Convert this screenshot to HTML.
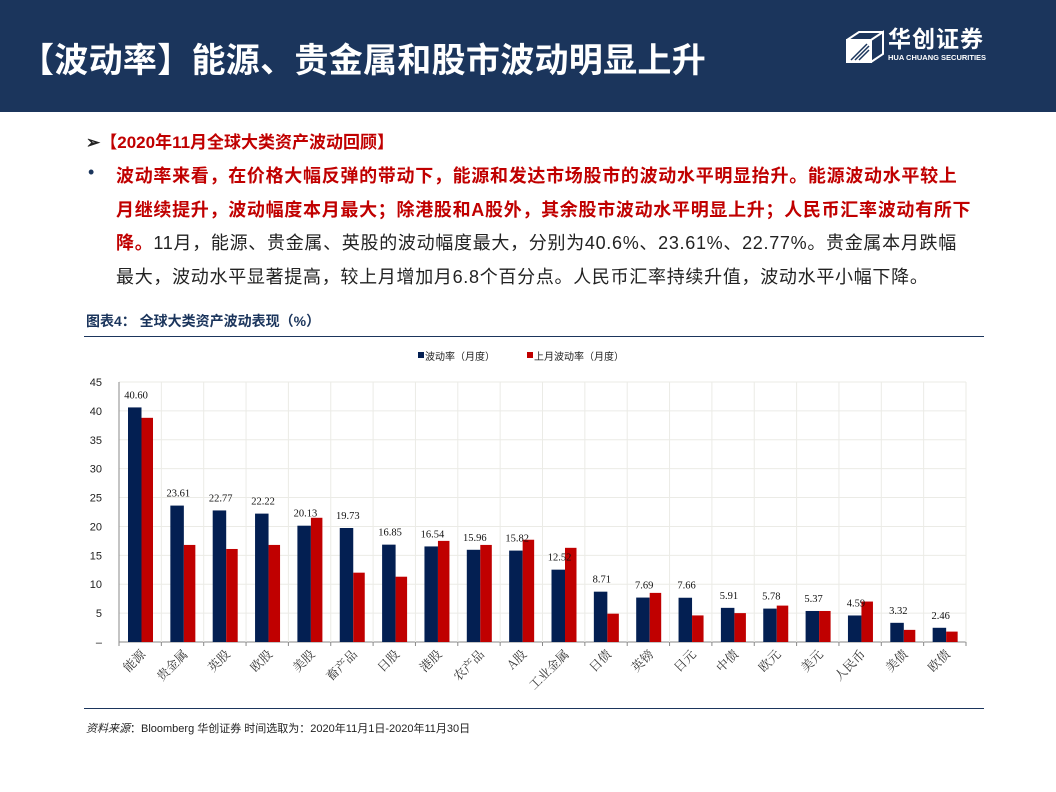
<!DOCTYPE html>
<html><head><meta charset="utf-8"><style>
body{margin:0;width:1056px;height:792px;background:#fff;font-family:"Liberation Sans","Noto Sans CJK SC",sans-serif;position:relative;overflow:hidden}
.hdr{position:absolute;left:0;top:0;width:1056px;height:112px;background:#1b355c}
.title{position:absolute;left:20px;top:33px;color:#fff;font-size:34px;font-weight:bold;letter-spacing:0.3px;white-space:nowrap}
.p{position:absolute;font-size:18px;color:#222}
.ln{position:absolute;left:116px;font-size:18px;color:#222;white-space:nowrap;letter-spacing:0.7px}
.red{color:#c00000;font-weight:bold}
</style></head><body>
<div class="hdr"></div>
<div class="title">【波动率】能源、贵金属和股市波动明显上升</div>
<div style="position:absolute;left:845px;top:28px;width:150px;height:36px">
<svg width="42" height="34" style="position:absolute;left:0;top:2px"><g fill="none" stroke="#fff" stroke-width="2"><rect x="2" y="10" width="24" height="22" fill="#fff"/><path d="M26 10 L38 2 L38 24 L26 32 M2 10 L14 2 L38 2"/><path d="M6 30 L22 14 M10 30 L24 16 M14 30 L24 20" stroke="#1b355c" stroke-width="1.5"/></g></svg>
<div style="position:absolute;left:43px;top:-2px;color:#fff;font-size:23px;line-height:27px;font-weight:bold;letter-spacing:1px">华创证券</div>
<div style="position:absolute;left:43px;top:25px;color:#fff;font-size:7.5px;line-height:9px;font-weight:bold;white-space:nowrap">HUA CHUANG SECURITIES</div>
</div>
<div class="p red" style="left:86px;top:128px;font-size:17px"><span style="color:#222">➢</span>【2020年11月全球大类资产波动回顾】</div>
<div class="p" style="left:88px;top:162px;color:#1b355c">•</div>
<div>
<div class="ln red" style="top:162px">波动率来看，在价格大幅反弹的带动下，能源和发达市场股市的波动水平明显抬升。能源波动水平较上</div>
<div class="ln red" style="top:196px">月继续提升，波动幅度本月最大；除港股和A股外，其余股市波动水平明显上升；人民币汇率波动有所下</div>
<div class="ln" style="top:229px"><span class="red">降。</span>11月，能源、贵金属、英股的波动幅度最大，分别为40.6%、23.61%、22.77%。贵金属本月跌幅</div>
<div class="ln" style="top:263px">最大，波动水平显著提高，较上月增加月6.8个百分点。人民币汇率持续升值，波动水平小幅下降。</div>
</div>
<div style="position:absolute;left:86px;top:311px;font-size:14px;font-weight:bold;color:#1b355c">图表4：&nbsp;全球大类资产波动表现（%）</div>
<div style="position:absolute;left:84px;top:336px;width:900px;height:1px;background:#1b355c"></div>
<div style="position:absolute;left:84px;top:708px;width:900px;height:1px;background:#1b355c"></div>
<div style="position:absolute;left:86px;top:720px;font-size:11px;color:#222"><i>资料来源</i>：Bloomberg 华创证券 时间选取为：2020年11月1日-2020年11月30日</div>
<svg id="chart" width="1056" height="792" style="position:absolute;left:0;top:0"></svg>
<script>
const categories=["能源","贵金属","英股","欧股","美股","畜产品","日股","港股","农产品","A股","工业金属","日债","英镑","日元","中债","欧元","美元","人民币","美债","欧债"];
const currentVals=[40.60,23.61,22.77,22.22,20.13,19.73,16.85,16.54,15.96,15.82,12.52,8.71,7.69,7.66,5.91,5.78,5.37,4.59,3.32,2.46];
const prevVals=[38.8,16.8,16.1,16.8,21.5,12.0,11.3,17.5,16.8,17.7,16.3,4.9,8.5,4.6,5.0,6.3,5.37,7.0,2.1,1.8];
const yTicks=[0,5,10,15,20,25,30,35,40,45];
const NS="http://www.w3.org/2000/svg",svg=document.getElementById('chart');
const x0=119,x1=966,y0=642,y1=382,ymax=45;
const cw=(x1-x0)/categories.length;
const Y=v=>y0-(v/ymax)*(y0-y1);
const X=i=>x0+i*cw;
function mk(t,a,txt){const e=document.createElementNS(NS,t);for(const k in a)e.setAttribute(k,a[k]);if(txt!==undefined)e.textContent=txt;svg.appendChild(e);return e;}
yTicks.forEach(t=>{
 const g=mk('line',{x1:x0,x2:x1,y1:Y(t),y2:Y(t),stroke:t?'#ebebe6':'#888'});
 
 
 const l=mk('text',{x:102,y:Y(t)+4,'font-size':11,'text-anchor':'end',fill:'#222'},t===0?'–':String(t));
 
 
});
for(let i=0;i<=categories.length;i++){
 const v=mk('line',{x1:X(i),x2:X(i),y1:y1,y2:y0,stroke:'#ebebe6'});
 
 
 const tk=mk('line',{x1:X(i),x2:X(i),y1:y0,y2:y0+4,stroke:'#888'});
 
 
}
mk('line',{x1:x0,x2:x0,y1:y1,y2:y0,stroke:'#888'});
categories.forEach((c,i)=>{
 const bx=X(i)+9;
 const b1=mk('rect',{x:bx,y:Y(currentVals[i]),width:13.5,height:y0-Y(currentVals[i]),fill:'#031f52'});
 
 
 const b2=mk('rect',{x:bx+13.5,y:Y(prevVals[i]),width:11.5,height:y0-Y(prevVals[i]),fill:'#c00000'});
 
 
 const lb=mk('text',{x:bx+8,y:Y(currentVals[i])-9,'font-size':10.5,'text-anchor':'middle',fill:'#111','font-family':'Liberation Serif, serif'},currentVals[i].toFixed(2));
 
 
 const cx=X(i)+cw/2+6,cy=y0+13;
 const xl=mk('text',{x:cx,y:cy,'font-size':12.5,'text-anchor':'end',fill:'#333',transform:`rotate(-45 ${cx} ${cy})`,'font-family':'Noto Serif CJK SC, serif'},c);
 
 
});
const lg1=mk('rect',{x:418,y:352,width:6,height:6,fill:'#031f52'});


const lt1=mk('text',{x:425,y:360,'font-size':10,fill:'#222'},'波动率（月度）');


const lg2=mk('rect',{x:527,y:352,width:6,height:6,fill:'#c00000'});


const lt2=mk('text',{x:534,y:360,'font-size':10,fill:'#222'},'上月波动率（月度）');


</script>
</body></html>
